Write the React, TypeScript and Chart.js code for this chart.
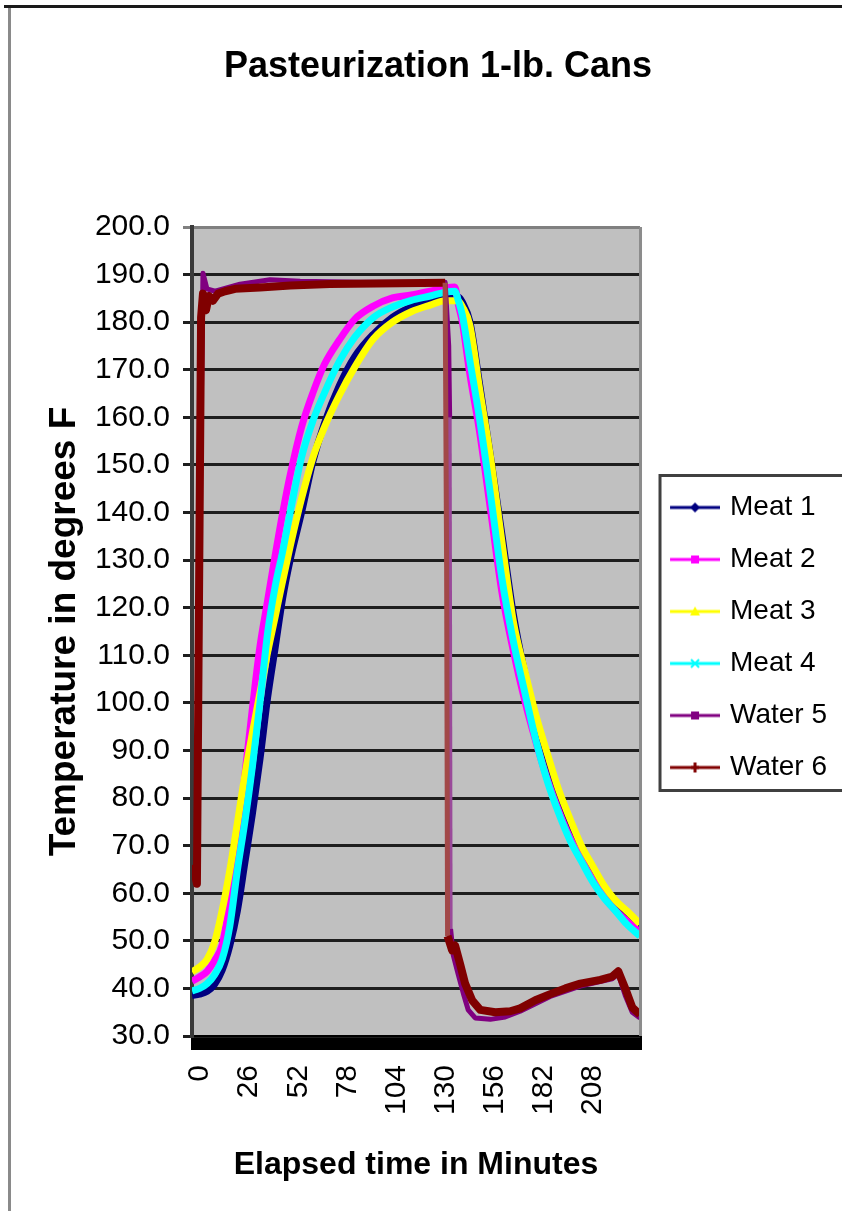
import React, { useEffect, useRef } from 'react';
import { Chart, registerables } from 'chart.js';

Chart.register(...registerables);

const FONT = "'Liberation Sans', Arial, sans-serif";

const chartTitle = 'Pasteurization 1-lb. Cans';
const xAxisTitle = 'Elapsed time in Minutes';
const yAxisTitle = 'Temperature in degrees F';

const seriesNames = ['Meat 1', 'Meat 2', 'Meat 3', 'Meat 4', 'Water 5', 'Water 6'];
const seriesColors = ['#000080', '#FF00FF', '#FFFF00', '#00FFFF', '#800080', '#800000'];
const steepColors = ['#000080', '#FF00FF', '#FFFF00', '#00FFFF', '#9a4a9a', '#a24848'];
const markerShapes = ['diamond', 'square', 'triangle', 'cross', 'square', 'plus'];

const xTickLabels = [0, 26, 52, 78, 104, 130, 156, 182, 208];

// Meat probes (minutes, degrees F)
const meatMinutes = [0, 4, 8, 12, 16, 20, 24, 28, 32, 36, 40, 44, 48, 52, 58, 64, 70, 78, 86, 96, 106, 116, 126, 134, 139, 141, 143, 147, 152, 158, 164, 170, 176, 182, 188, 194, 200, 206, 212, 218, 224, 230, 237];
const meat1 = [38.5, 38.8, 39.4, 40.9, 43.9, 49.0, 56.3, 66.5, 76.8, 88.3, 101.1, 111.6, 122.1, 130.2, 140.1, 150.8, 158.7, 166.7, 172.7, 177.5, 181.0, 183.2, 184.5, 185.1, 185.3, 185.3, 184.2, 180.1, 167.3, 151.5, 135.2, 118.6, 106.3, 96.0, 87.1, 79.2, 73.6, 68.5, 64.2, 60.6, 57.6, 55.0, 52.0];
const meat2 = [41.5, 42.4, 43.6, 45.9, 49.2, 58.3, 70.5, 85.0, 99.0, 112.0, 121.5, 131.0, 140.0, 148.0, 158.0, 165.2, 171.1, 176.3, 180.6, 183.4, 185.1, 185.7, 186.5, 187.2, 187.4, 183.5, 180.0, 169.0, 157.3, 140.3, 123.1, 110.9, 100.5, 91.7, 83.9, 77.3, 71.6, 67.0, 62.8, 59.2, 56.4, 54.2, 51.8];
const meat3 = [43.5, 44.5, 46.1, 49.8, 56.5, 64.8, 74.7, 84.9, 93.8, 102.2, 110.6, 118.1, 125.7, 133.0, 143.0, 151.6, 157.9, 164.7, 170.5, 176.5, 180.0, 182.2, 183.6, 184.5, 184.5, 184.4, 183.3, 179.3, 166.3, 151.4, 133.7, 117.1, 106.8, 97.3, 89.3, 81.7, 75.6, 70.0, 65.7, 61.6, 58.5, 56.3, 53.6];
const meat4 = [39.5, 40.0, 41.0, 42.9, 46.2, 53.1, 64.8, 75.1, 86.8, 100.2, 114.7, 124.5, 131.9, 140.2, 151.7, 159.3, 165.1, 171.8, 176.8, 181.0, 183.2, 184.6, 185.5, 186.3, 186.5, 184.4, 181.5, 171.9, 160.0, 143.5, 126.0, 112.9, 102.3, 92.0, 83.5, 76.8, 71.1, 66.7, 62.4, 59.0, 56.3, 53.5, 51.0];

// Water probes
const water5Minutes = [2.6, 3.7, 5.8, 7.9, 12.2, 25.4, 41.3, 57.2, 88.9, 133.9, 135.8, 136.3, 136.8, 138.2, 140.8, 143.5, 146.1, 149.8, 157.8, 165.7, 173.6, 189.5, 205.4, 222.3, 225.5, 229.2, 232.9, 237];
const water5Temps = [69, 125.5, 190.3, 187, 186.5, 188, 188.9, 188.6, 188.4, 188.4, 175, 160, 52.5, 47, 43, 39, 35.5, 33.8, 33.5, 34, 35.2, 38.3, 40.5, 42, 43, 38.5, 35, 33.8];
const water6Minutes = [0.5, 2.6, 4.8, 5.8, 7.4, 9.0, 11.1, 13.8, 17.5, 22.8, 36, 52, 73, 110, 133.9, 134.7, 135.2, 137.6, 139.2, 141.9, 144.5, 148.2, 152.5, 160.4, 168.3, 173.6, 181.6, 189.5, 197.5, 205.4, 216, 222.3, 225.5, 229.2, 232.9, 237];
const water6Temps = [66, 62, 181, 186, 182.5, 185.5, 184.5, 186, 186.5, 187, 187.3, 187.7, 188, 188.2, 188.3, 128.5, 51, 48, 49, 45, 41, 37.5, 35.5, 35, 35.2, 35.8, 37.5, 38.8, 40, 41, 41.8, 42.5, 43.6, 40, 36, 34.5];

function makeLegendSymbol(color: string, shape: string): HTMLCanvasElement {
  const c = document.createElement('canvas');
  c.width = 60;
  c.height = 20;
  const g = c.getContext('2d') as CanvasRenderingContext2D;
  g.strokeStyle = color;
  g.lineWidth = 3;
  g.beginPath();
  g.moveTo(10, 10);
  g.lineTo(60, 10);
  g.stroke();
  g.fillStyle = color;
  const cx = 35, cy = 10, r = 5;
  g.beginPath();
  if (shape === 'diamond') {
    g.moveTo(cx, cy - r); g.lineTo(cx + r, cy); g.lineTo(cx, cy + r); g.lineTo(cx - r, cy); g.closePath(); g.fill();
  } else if (shape === 'square') {
    g.fillRect(cx - r + 1, cy - r + 1, 2 * r - 2, 2 * r - 2);
  } else if (shape === 'triangle') {
    g.moveTo(cx, cy - r); g.lineTo(cx + r, cy + r - 1); g.lineTo(cx - r, cy + r - 1); g.closePath(); g.fill();
  } else if (shape === 'cross') {
    g.lineWidth = 2;
    g.moveTo(cx - 4, cy - 4); g.lineTo(cx + 4, cy + 4); g.moveTo(cx + 4, cy - 4); g.lineTo(cx - 4, cy + 4); g.stroke();
  } else {
    g.lineWidth = 3;
    g.moveTo(cx, cy - 5); g.lineTo(cx, cy + 5); g.moveTo(cx - 4, cy); g.lineTo(cx + 4, cy); g.stroke();
  }
  return c;
}

const decorPlugin = {
  id: 'decor',
  beforeDraw(chart: any) {
    const { ctx, chartArea: a } = chart;
    ctx.save();
    ctx.fillStyle = '#ffffff';
    ctx.fillRect(0, 0, chart.width, chart.height);
    ctx.fillStyle = '#c0c0c0';
    ctx.fillRect(a.left, a.top, a.right - a.left, a.bottom - a.top);
    ctx.restore();
  },
  afterDraw(chart: any) {
    const { ctx, chartArea: a } = chart;
    ctx.save();
    ctx.fillStyle = '#8c8c8c';
    ctx.fillRect(a.right - 1, a.top, 3, a.bottom - a.top);
    const lg = chart.legend;
    if (lg && lg.legendHitBoxes && lg.legendHitBoxes.length) {
      const hb = lg.legendHitBoxes;
      const last = hb[hb.length - 1];
      const top = hb[0].top - 18;
      const bottom = last.top + last.height + 9;
      const left = hb[0].left - 4;
      ctx.strokeStyle = '#404040';
      ctx.lineWidth = 3;
      ctx.strokeRect(left, top, chart.width + 20 - left, bottom - top);
    }
    ctx.fillStyle = '#1a1a1a';
    ctx.fillRect(4, 5, chart.width, 3);
    ctx.fillStyle = '#8a8a8a';
    ctx.fillRect(8, 8, 3, chart.height);
    ctx.restore();
  },
};

const isSteep = (c: any) => Math.abs(c.p1.parsed.y - c.p0.parsed.y) > 20 && Math.abs(c.p1.parsed.x - c.p0.parsed.x) < 2;

export default function App() {
  const ref = useRef<HTMLCanvasElement | null>(null);

  useEffect(() => {
    if (!ref.current) return;
    Chart.defaults.font.family = FONT;
    const meatSeries = [meat1, meat2, meat3, meat4];
    const datasets: any[] = meatSeries.map((vals, i) => ({
      label: seriesNames[i],
      data: meatMinutes.map((m, j) => ({ x: m, y: vals[j] })),
      borderColor: seriesColors[i],
      backgroundColor: seriesColors[i],
      borderWidth: 7,
      pointRadius: 0,
      cubicInterpolationMode: 'monotone',
      fill: false,
      order: 6 - i,
    }));
    datasets.push({
      label: seriesNames[4],
      data: water5Minutes.map((m, j) => ({ x: m, y: water5Temps[j] })),
      borderColor: seriesColors[4],
      backgroundColor: seriesColors[4],
      borderWidth: 5,
      borderJoinStyle: 'round',
      pointRadius: 0,
      tension: 0,
      fill: false,
      order: 2,
      segment: {
        borderWidth: (c: any) => (isSteep(c) ? 4 : 5),
        borderColor: (c: any) => (isSteep(c) ? steepColors[4] : seriesColors[4]),
      },
    });
    datasets.push({
      label: seriesNames[5],
      data: water6Minutes.map((m, j) => ({ x: m, y: water6Temps[j] })),
      borderColor: seriesColors[5],
      backgroundColor: seriesColors[5],
      borderWidth: 8,
      borderJoinStyle: 'round',
      pointRadius: 0,
      tension: 0,
      fill: false,
      order: 1,
      segment: {
        borderWidth: (c: any) => (isSteep(c) ? 5 : 8),
        borderColor: (c: any) => (isSteep(c) ? steepColors[5] : seriesColors[5]),
      },
    });

    const symbols = seriesNames.map((_, i) => makeLegendSymbol(seriesColors[i], markerShapes[i]));

    const chart = new Chart(ref.current, {
      type: 'line',
      data: { datasets },
      options: {
        responsive: false,
        animation: false,
        devicePixelRatio: 1,
        layout: { padding: { left: 39, right: 15, top: 0, bottom: 0 } },
        plugins: {
          title: {
            display: true,
            text: chartTitle,
            color: '#000',
            font: { family: FONT, size: 36, weight: 'bold' },
            padding: { top: 45, bottom: 138.8 },
          },
          legend: {
            position: 'right',
            fullSize: false,
            align: 'center',
            title: { display: true, text: '', padding: 0, font: { size: 10 } },
            labels: {
              usePointStyle: true,
              pointStyleWidth: 52,
              padding: 24,
              color: '#000',
              font: { family: FONT, size: 28 },
              generateLabels: () =>
                seriesNames.map((name, i) => ({
                  text: name,
                  fillStyle: seriesColors[i],
                  strokeStyle: seriesColors[i],
                  lineWidth: 0,
                  pointStyle: symbols[i],
                  hidden: false,
                  datasetIndex: i,
                  fontColor: '#000',
                })),
            },
          },
          tooltip: { enabled: false },
        },
        scales: {
          x: {
            type: 'linear',
            min: 0,
            max: 237,
            afterFit: (s: any) => { s.height = 175; },
            grid: { drawOnChartArea: false, drawTicks: true, tickLength: 14, color: '#000', lineWidth: 3 },
            border: { display: true, color: '#000', width: 2 },
            ticks: {
              stepSize: 1,
              autoSkip: false,
              maxTicksLimit: 1000,
              minRotation: 90,
              maxRotation: 90,
              padding: 15,
              labelOffset: 8,
              color: '#000',
              font: { family: FONT, size: 30 },
              callback: (v: any) => (xTickLabels.includes(Number(v)) ? String(v) : ''),
            },
            title: {
              display: true,
              text: xAxisTitle,
              color: '#000',
              font: { family: FONT, size: 32, weight: 'bold' },
              padding: { top: 0, bottom: 27 },
            },
          },
          y: {
            min: 30,
            max: 200,
            afterFit: (s: any) => { s.width = 153; },
            ticks: {
              stepSize: 10,
              padding: 13,
              color: '#000',
              font: { family: FONT, size: 30 },
              callback: (v: any) => Number(v).toFixed(1),
            },
            grid: {
              color: (c: any) => (c.tick && c.tick.value === 200 ? '#808080' : '#1e1e1e'),
              lineWidth: 3,
              tickLength: 9,
            },
            border: { display: true, color: '#3a3a3a', width: 4 },
            title: {
              display: true,
              text: yAxisTitle,
              color: '#000',
              font: { family: FONT, size: 37, weight: 'bold' },
              padding: { top: 4, bottom: 0 },
            },
          },
        },
      } as any,
      plugins: [decorPlugin],
    });
    return () => chart.destroy();
  }, []);

  return (
    <div style={{ position: 'absolute', left: 0, top: 0, width: 842, height: 1211, overflow: 'hidden', background: '#fff' }}>
      <canvas ref={ref} width={852} height={1211} style={{ display: 'block', width: 852, height: 1211 }} />
    </div>
  );
}
